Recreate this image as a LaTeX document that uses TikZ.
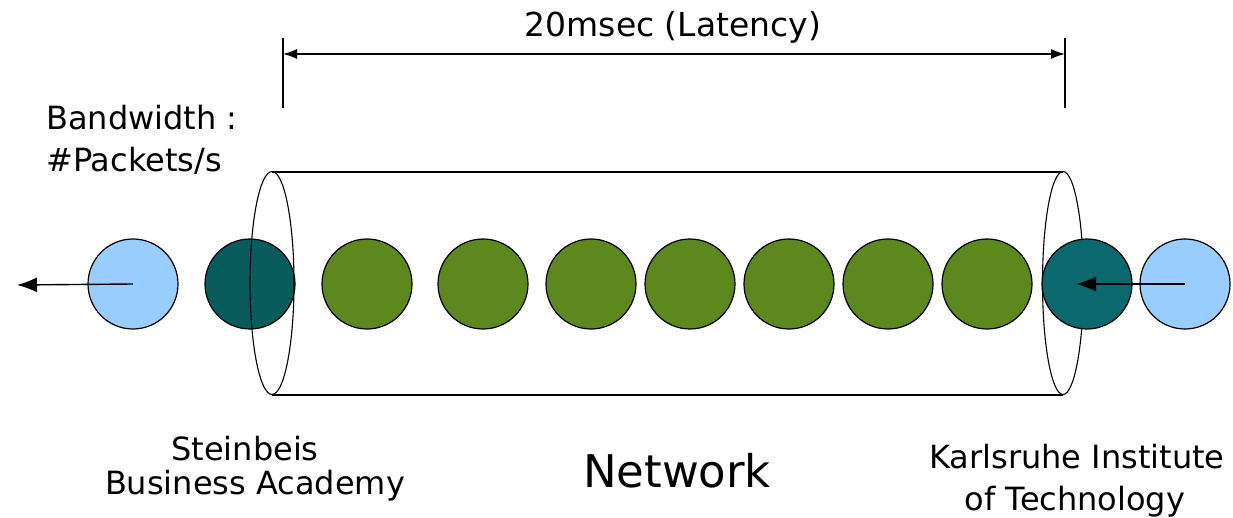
\documentclass[tikz,border=0pt]{standalone}
\usepackage{fontspec}
\setmainfont{DejaVu Sans}
\usetikzlibrary{arrows.meta}
\definecolor{packetblue}{RGB}{153,204,255}
\definecolor{packetteal}{RGB}{8,92,92}
\definecolor{packettealr}{RGB}{10,104,110}
\definecolor{packetgreen}{RGB}{92,136,30}
\tikzset{
  packet/.style={circle, draw=black, line width=1.2pt, minimum size=90pt, inner sep=0pt},
  pipe/.style={draw=black, line width=1.1pt},
  flow/.style={draw=black, line width=1.4pt, -{Latex[length=20pt,width=15pt]}},
  dimline/.style={draw=black, line width=1.3pt, {Latex[length=14pt,width=10pt]}-{Latex[length=14pt,width=10pt]}},
  tick/.style={draw=black, line width=1.1pt},
  lbl/.style={inner sep=0pt, anchor=base, font=\fontsize{32}{38}\selectfont},
}
\begin{document}
\begin{tikzpicture}[x=1pt, y=-1pt]
\useasboundingbox (0,0) rectangle (1233,518);

% pipe body
\coordinate (pl) at (272,283);
\coordinate (pr) at (1063,283);
\draw[pipe] (272,172) -- (1063,172);
\draw[pipe] (272,395) -- (1063,395);

% packet leaving on the left, under the left pipe end
\node[packet, fill=packetteal] (t1) at (250,284) {};
\draw[pipe] (pl) ellipse [x radius=22, y radius=111.5];

% packets in flight
\node[packet, fill=packetgreen] (g1) at (367,284) {};
\node[packet, fill=packetgreen] (g2) at (483,284) {};
\node[packet, fill=packetgreen] (g3) at (591,284) {};
\node[packet, fill=packetgreen] (g4) at (690,284) {};
\node[packet, fill=packetgreen] (g5) at (789,284) {};
\node[packet, fill=packetgreen] (g6) at (888,284) {};
\node[packet, fill=packetgreen] (g7) at (987,284) {};

% right pipe end, packet entering on top of it
\draw[pipe] (pr) ellipse [x radius=20.5, y radius=111.5];
\node[packet, fill=packettealr] (t2) at (1087,284) {};

% packets outside the pipe
\node[packet, fill=packetblue] (b1) at (133,284) {};
\node[packet, fill=packetblue] (b2) at (1185,284) {};

% direction of travel
\coordinate (outl) at (17,285);
\coordinate (inr) at (1076,284);
\draw[flow] (b1.center) -- (outl);
\draw[flow] (b2.center) -- (inr);

% latency dimension
\coordinate (d1t) at (283,38);
\coordinate (d1b) at (283,108);
\coordinate (d2t) at (1065,38);
\coordinate (d2b) at (1065,108);
\draw[tick] (d1t) -- (d1b);
\draw[tick] (d2t) -- (d2b);
\draw[dimline] (283,54) -- (1065,54);
\node[lbl, font=\fontsize{33}{40}\selectfont] (lat) at (673,37) {20msec (Latency)};

% labels
\node[lbl, anchor=base west] (bw1) at (46,130) {Bandwidth :};
\node[lbl, anchor=base west] (bw2) at (46,172) {\#Packets/s};
\node[lbl] (sba1) at (245,460) {Steinbeis};
\node[lbl] (sba2) at (255,494) {Business Academy};
\node[lbl, font=\fontsize{45}{52}\selectfont] (net) at (677,487) {Network};
\node[lbl] (kit1) at (1077,468) {Karlsruhe Institute};
\node[lbl] (kit2) at (1075,510) {of Technology};
\end{tikzpicture}
\end{document}
